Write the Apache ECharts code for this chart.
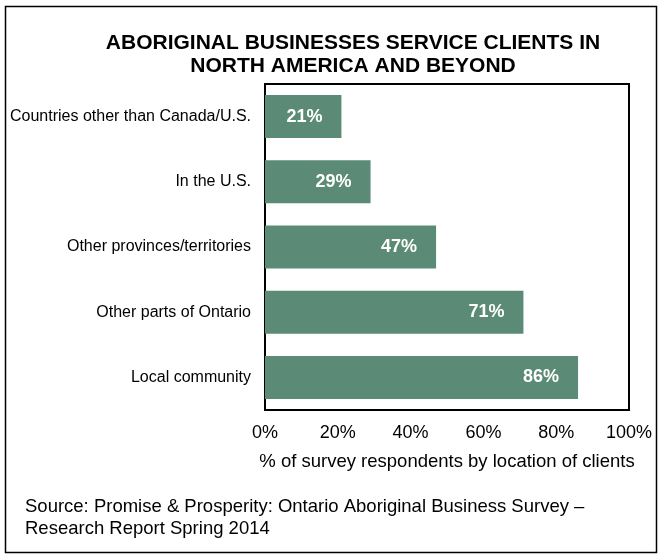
<!DOCTYPE html>
<html>
<head>
<meta charset="utf-8">
<script src="https://cdn.jsdelivr.net/npm/echarts@6/dist/echarts.min.js"></script>
<style>
html,body{margin:0;padding:0;background:#fff;}
#chart{width:662px;height:558px;}
</style>
</head>
<body>
<div id="chart"></div>
<script>
const categories = ['Countries other than Canada/U.S.', 'In the U.S.', 'Other provinces/territories', 'Other parts of Ontario', 'Local community'];
const values = [21, 29, 47, 71, 86];
const titleLines = ['ABORIGINAL BUSINESSES SERVICE CLIENTS IN', 'NORTH AMERICA AND BEYOND'];
const axisName = '% of survey respondents by location of clients';
const sourceLines = ['Source: Promise & Prosperity: Ontario Aboriginal Business Survey \u2013', 'Research Report Spring 2014'];

const font = 'Liberation Sans, Arial, sans-serif';
const chart = echarts.init(document.getElementById('chart'));
chart.setOption({
  animation: false,
  backgroundColor: '#fff',
  title: {
    text: titleLines.join('\n'),
    left: 353, top: 32, textAlign: 'center', padding: 0,
    textStyle: {fontFamily: font, fontSize: 21, fontWeight: 'bold', color: '#000', lineHeight: 23}
  },
  graphic: [
    {type: 'rect', shape: {x: 5.5, y: 6.5, width: 651, height: 546}, style: {fill: null, stroke: '#000', lineWidth: 1.5}, silent: true},
    {type: 'text', left: 25, top: 496, style: {text: sourceLines.join('\n'), fontFamily: font, fontSize: 18.5, lineHeight: 22, fill: '#000'}}
  ],
  grid: {left: 265, top: 84, right: 33, bottom: 148, show: true, borderColor: '#000', borderWidth: 2, containLabel: false},
  xAxis: {
    type: 'value', min: 0, max: 100, interval: 20,
    axisLine: {show: false}, axisTick: {show: false}, splitLine: {show: false},
    axisLabel: {formatter: '{value}%', fontFamily: font, fontSize: 18, color: '#000', margin: 14},
    name: axisName, nameLocation: 'middle', nameGap: 42,
    nameTextStyle: {fontFamily: font, fontSize: 18.5, color: '#000'}
  },
  yAxis: {
    type: 'category', data: categories, inverse: true,
    axisLine: {show: false}, axisTick: {show: false},
    axisLabel: {fontFamily: font, fontSize: 16, color: '#000', margin: 14}
  },
  series: [{
    type: 'bar', data: values, barWidth: '66%',
    itemStyle: {color: '#5b8b76'},
    label: {show: true, position: 'insideRight', distance: 19, formatter: '{c}%',
      fontFamily: font, fontSize: 18, fontWeight: 'bold', color: '#fff'}
  }]
});
</script>
</body>
</html>
